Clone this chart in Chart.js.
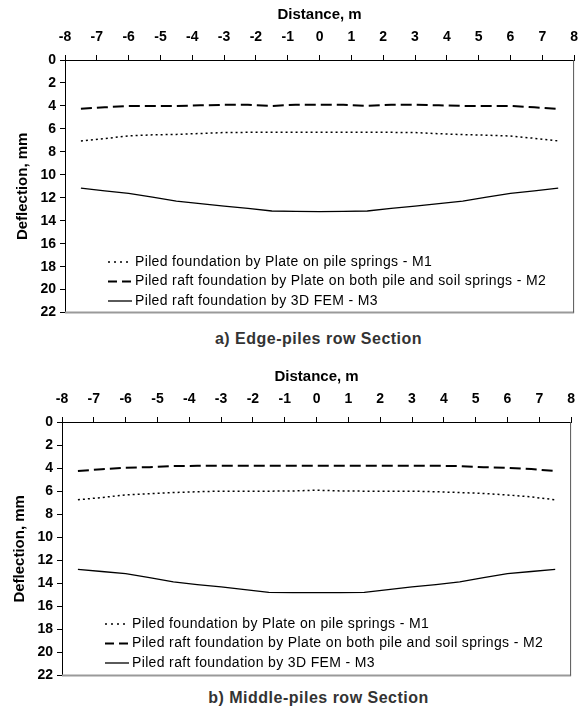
<!DOCTYPE html>
<html>
<head>
<meta charset="utf-8">
<script src="https://cdn.jsdelivr.net/npm/chart.js@4.4.1/dist/chart.umd.min.js"></script>
<style>
    body {
        margin: 0;
        background: #fff;
        width: 587px;
        height: 713px;
        position: relative;
        overflow: hidden;
        font-family: 'Liberation Sans', Arial, sans-serif;
    }
    .panel { position: absolute; left: 0; }
    .caption {
        position: absolute;
        left: 0;
        width: 637px;
        text-align: center;
        font-size: 16px;
        letter-spacing: 0.5px;
        font-weight: bold;
        color: #333;
    }
</style>
</head>
<body>
<div class="panel" style="top:0"><canvas id="edge-chart" width="587" height="325"></canvas></div>
<div class="caption" style="top:330px">a) Edge-piles row Section</div>
<div class="panel" style="top:362px"><canvas id="middle-chart" width="584" height="326"></canvas></div>
<div class="caption" style="top:689px">b) Middle-piles row Section</div>

<script>
// ================================
// DATA
// ================================
const distance = [-7.5, -6.75, -6, -5.25, -4.5, -3.75, -3, -2.25, -1.5, -0.75, 0,
                  0.75, 1.5, 2.25, 3, 3.75, 4.5, 5.25, 6, 6.75, 7.5];

const seriesLabels = [
    'Piled foundation by Plate on pile springs - M1',
    'Piled raft foundation by Plate on both pile and soil springs - M2',
    'Piled raft foundation by 3D FEM - M3'
];

// a) Edge-piles row
const edgeM1 = [7.05, 6.85, 6.6, 6.52, 6.48, 6.4, 6.32, 6.3, 6.3, 6.3, 6.3,
                6.3, 6.3, 6.3, 6.32, 6.42, 6.5, 6.55, 6.62, 6.82, 7.05];
const edgeM2 = [4.25, 4.12, 4.0, 4.0, 4.0, 3.95, 3.9, 3.9, 4.0, 3.9, 3.9,
                3.9, 4.0, 3.9, 3.9, 3.95, 4.0, 4.0, 4.0, 4.12, 4.25];
const edgeM3 = [11.15, 11.4, 11.62, 11.95, 12.3, 12.5, 12.72, 12.93, 13.15, 13.18, 13.2,
                13.18, 13.15, 12.93, 12.72, 12.5, 12.3, 11.95, 11.62, 11.4, 11.15];

// b) Middle-piles row
const middleM1 = [6.75, 6.55, 6.33, 6.22, 6.12, 6.05, 6.0, 6.0, 6.0, 5.98, 5.92,
                  5.98, 6.0, 6.0, 6.0, 6.05, 6.12, 6.2, 6.33, 6.5, 6.75];
const middleM2 = [4.25, 4.1, 3.97, 3.92, 3.82, 3.8, 3.8, 3.8, 3.8, 3.8, 3.8,
                  3.8, 3.8, 3.8, 3.8, 3.8, 3.82, 3.92, 3.97, 4.08, 4.25];
const middleM3 = [12.78, 12.97, 13.16, 13.5, 13.87, 14.1, 14.3, 14.55, 14.78, 14.8, 14.8,
                  14.8, 14.78, 14.55, 14.3, 14.1, 13.87, 13.5, 13.16, 12.97, 12.78];

// axis ranges
const xMin = -8, xMax = 8, xStep = 1;
const yMin = 0, yMax = 22, yStep = 2;

// line styles per series
const seriesDash = [[2, 3], [11, 5], []];
const seriesWidth = [1.5, 2, 1.3];
const legendDash = [[2, 4], [9, 5], []];

const FONT = "'Liberation Sans', Arial, sans-serif";

/**
 * Legend drawn inside the plot area, lower left
 */
const insideLegend = {
    id: 'insideLegend',
    afterDraw(chart, args, opts) {
        const { ctx, chartArea } = chart;
        ctx.save();
        ctx.font = '14px ' + FONT;
        ctx.letterSpacing = '0.35px';
        ctx.textBaseline = 'middle';
        chart.data.datasets.forEach((ds, i) => {
            const y = chartArea.top + opts.top + i * opts.gap;
            const x0 = chartArea.left + opts.left;
            ctx.strokeStyle = '#000';
            ctx.lineWidth = ds.borderWidth;
            ctx.setLineDash(legendDash[i]);
            ctx.beginPath();
            ctx.moveTo(x0, y);
            ctx.lineTo(x0 + opts.sample, y);
            ctx.stroke();
            ctx.setLineDash([]);
            ctx.fillStyle = '#000';
            ctx.fillText(ds.label, x0 + opts.sample + 3, y);
        });
        ctx.restore();
    }
};

/**
 * Right and bottom frame of the plot area
 */
const plotFrame = {
    id: 'plotFrame',
    beforeDatasetsDraw(chart) {
        const { ctx, chartArea } = chart;
        ctx.save();
        ctx.strokeStyle = '#9a9a9a';
        ctx.lineWidth = 2;
        ctx.beginPath();
        ctx.moveTo(chartArea.left, chartArea.bottom);
        ctx.lineTo(chartArea.right, chartArea.bottom);
        ctx.stroke();
        ctx.strokeStyle = '#555';
        ctx.lineWidth = 1;
        ctx.beginPath();
        ctx.moveTo(chartArea.right - 0.5, chartArea.top);
        ctx.lineTo(chartArea.right - 0.5, chartArea.bottom);
        ctx.stroke();
        ctx.restore();
    }
};

function buildDatasets(m1, m2, m3) {
    return [m1, m2, m3].map((values, i) => ({
        label: seriesLabels[i],
        data: distance.map((d, k) => ({ x: d, y: values[k] })),
        borderColor: '#000',
        borderWidth: seriesWidth[i],
        borderDash: seriesDash[i],
        pointRadius: 0,
        tension: 0,
        fill: false
    }));
}

function renderDeflectionChart(canvasId, m1, m2, m3, yAxisWidth, yTitlePad) {
    const canvas = document.getElementById(canvasId);
    const ctx = canvas.getContext('2d');

    return new Chart(ctx, {
        type: 'line',
        data: { datasets: buildDatasets(m1, m2, m3) },
        options: {
            responsive: false,
            animation: false,
            devicePixelRatio: 1,
            layout: { padding: { left: 0, right: 8, top: 0, bottom: 8 } },
            plugins: {
                legend: { display: false },
                tooltip: { enabled: false },
                insideLegend: { left: 43, top: 202, gap: 19.5, sample: 24 }
            },
            scales: {
                x: {
                    type: 'linear',
                    position: 'top',
                    min: xMin,
                    max: xMax,
                    afterFit(scale) { scale.height = 60; },
                    ticks: {
                        stepSize: xStep,
                        color: '#000',
                        padding: 9,
                        maxRotation: 0,
                        font: { family: FONT, size: 14, weight: 'bold' }
                    },
                    grid: {
                        drawOnChartArea: false,
                        tickLength: 5,
                        color: '#000'
                    },
                    border: { color: '#000', width: 1 },
                    title: {
                        display: true,
                        text: 'Distance, m',
                        color: '#000',
                        padding: { top: 6, bottom: 0 },
                        font: { family: FONT, size: 15, weight: 'bold' }
                    }
                },
                y: {
                    reverse: true,
                    min: yMin,
                    max: yMax,
                    afterFit(scale) { scale.width = yAxisWidth; },
                    ticks: {
                        stepSize: yStep,
                        color: '#000',
                        padding: 4,
                        font: { family: FONT, size: 14, weight: 'bold' }
                    },
                    grid: {
                        drawOnChartArea: false,
                        tickLength: 5,
                        color: '#000'
                    },
                    border: { color: '#000', width: 1 },
                    title: {
                        display: true,
                        text: 'Deflection, mm',
                        color: '#000',
                        padding: { top: yTitlePad, bottom: 0 },
                        font: { family: FONT, size: 15, weight: 'bold' }
                    }
                }
            }
        },
        plugins: [plotFrame, insideLegend]
    });
}

renderDeflectionChart('edge-chart', edgeM1, edgeM2, edgeM3, 65, 14);
renderDeflectionChart('middle-chart', middleM1, middleM2, middleM3, 62, 11);
</script>
</body>
</html>
